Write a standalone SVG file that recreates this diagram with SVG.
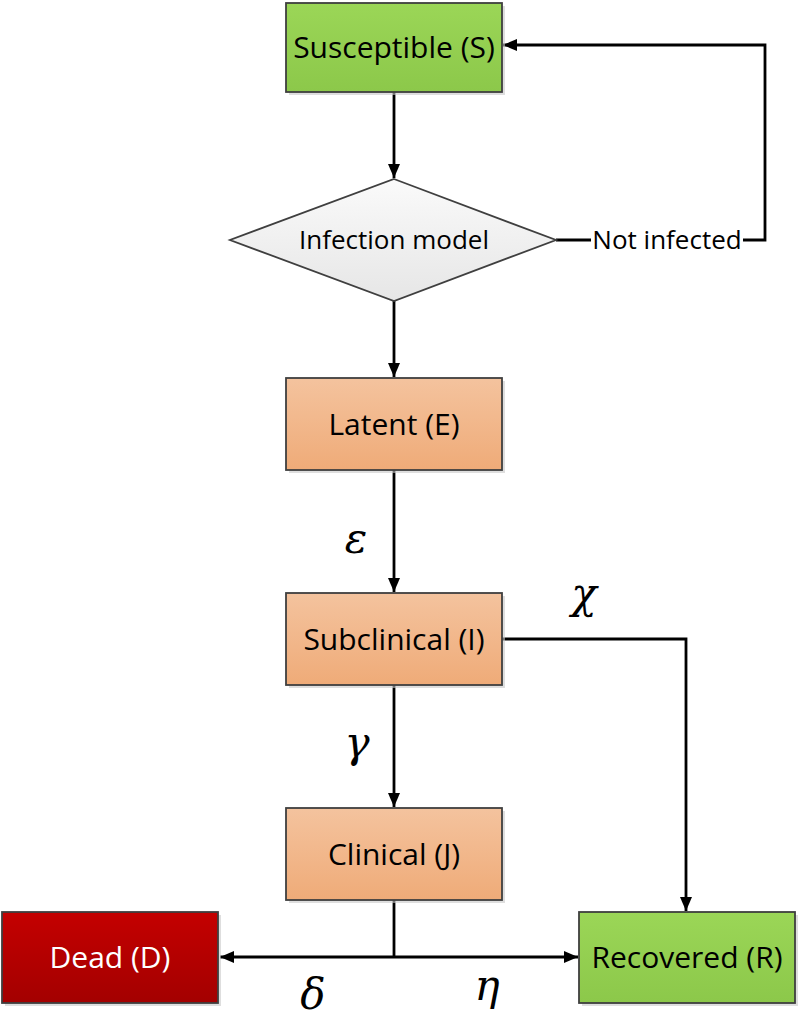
<svg xmlns="http://www.w3.org/2000/svg" width="800" height="1022" viewBox="0 0 800 1022">
<defs>
<linearGradient id="gGreen" x1="0" y1="0" x2="0" y2="1"><stop offset="0" stop-color="#9bd657"/><stop offset="1" stop-color="#8cc84a"/></linearGradient>
<linearGradient id="gOrange" x1="0" y1="0" x2="0" y2="1"><stop offset="0" stop-color="#f4c39e"/><stop offset="1" stop-color="#efab78"/></linearGradient>
<linearGradient id="gRed" x1="0" y1="0" x2="0" y2="1"><stop offset="0" stop-color="#c40000"/><stop offset="1" stop-color="#a30000"/></linearGradient>
<linearGradient id="gGray" x1="0" y1="0" x2="0" y2="1"><stop offset="0" stop-color="#fafafa"/><stop offset="1" stop-color="#e6e6e6"/></linearGradient>
<marker id="arr" viewBox="0 0 14 12" refX="14" refY="6" markerWidth="14" markerHeight="12" markerUnits="userSpaceOnUse" orient="auto"><path d="M0,0 L14,6 L0,12 Z" fill="#000"/></marker>
</defs>
<style>
.box{stroke:#3f3f3f;stroke-width:1.8}
.shadow{fill:#c8c8c8;opacity:0.6}
.lbl{font-family:"Open Sans","Liberation Sans",sans-serif;font-size:30px;text-anchor:middle;fill:#000}
.dlbl{font-family:"Open Sans","Liberation Sans",sans-serif;font-size:26px;text-anchor:middle;fill:#000}
.greek{font-family:"DejaVu Serif","Liberation Serif",serif;font-style:italic;font-size:42px;text-anchor:middle;fill:#000}
.conn{fill:none;stroke:#000;stroke-width:2.8}
</style>
<rect width="800" height="1022" fill="#fff"/>
<g id="connectors">
<line class="conn" x1="394" y1="92" x2="394" y2="178" marker-end="url(#arr)"/>
<polyline class="conn" points="556,240 591,240"/>
<polyline class="conn" points="743,240 765,240 765,45 503,45" marker-end="url(#arr)"/>
<line class="conn" x1="394" y1="301" x2="394" y2="377" marker-end="url(#arr)"/>
<line class="conn" x1="394" y1="470" x2="394" y2="592" marker-end="url(#arr)"/>
<polyline class="conn" points="502,639 686,639 686,911" marker-end="url(#arr)"/>
<line class="conn" x1="394" y1="685" x2="394" y2="807" marker-end="url(#arr)"/>
<line class="conn" x1="394" y1="900" x2="394" y2="957"/>
<line class="conn" x1="394" y1="957" x2="220" y2="957" marker-end="url(#arr)"/>
<line class="conn" x1="394" y1="957" x2="578" y2="957" marker-end="url(#arr)"/>
<text class="dlbl" x="667" y="249">Not infected</text>
<text class="greek" x="356" y="553">ε</text>
<text class="greek" x="584" y="608">χ</text>
<text class="greek" x="357" y="757">γ</text>
<text class="greek" x="313" y="1009">δ</text>
<text class="greek" x="487" y="1000">η</text>
</g>
<g id="susceptible">
<rect class="shadow" x="289" y="6" width="216" height="89"/>
<rect class="box" x="286" y="3" width="216" height="89" fill="url(#gGreen)"/>
<text class="lbl" x="394" y="58">Susceptible (S)</text>
</g>
<g id="infection-model">
<polygon points="394,179 556,240 394,301 230,240" fill="url(#gGray)" stroke="#3f3f3f" stroke-width="1.8"/>
<text class="dlbl" x="394" y="249">Infection model</text>
</g>
<g id="latent">
<rect class="shadow" x="289" y="381" width="216" height="92"/>
<rect class="box" x="286" y="378" width="216" height="92" fill="url(#gOrange)"/>
<text class="lbl" x="394" y="435">Latent (E)</text>
</g>
<g id="subclinical">
<rect class="shadow" x="289" y="596" width="216" height="92"/>
<rect class="box" x="286" y="593" width="216" height="92" fill="url(#gOrange)"/>
<text class="lbl" x="394" y="650">Subclinical (I)</text>
</g>
<g id="clinical">
<rect class="shadow" x="289" y="811" width="216" height="92"/>
<rect class="box" x="286" y="808" width="216" height="92" fill="url(#gOrange)"/>
<text class="lbl" x="394" y="865">Clinical (J)</text>
</g>
<g id="dead">
<rect class="shadow" x="5" y="915" width="216" height="91"/>
<rect class="box" x="2" y="912" width="216" height="91" fill="url(#gRed)"/>
<text class="lbl" x="110" y="968" style="fill:#fff">Dead (D)</text>
</g>
<g id="recovered">
<rect class="shadow" x="582" y="915" width="216" height="91"/>
<rect class="box" x="579" y="912" width="216" height="91" fill="url(#gGreen)"/>
<text class="lbl" x="687" y="968">Recovered (R)</text>
</g>
</svg>
